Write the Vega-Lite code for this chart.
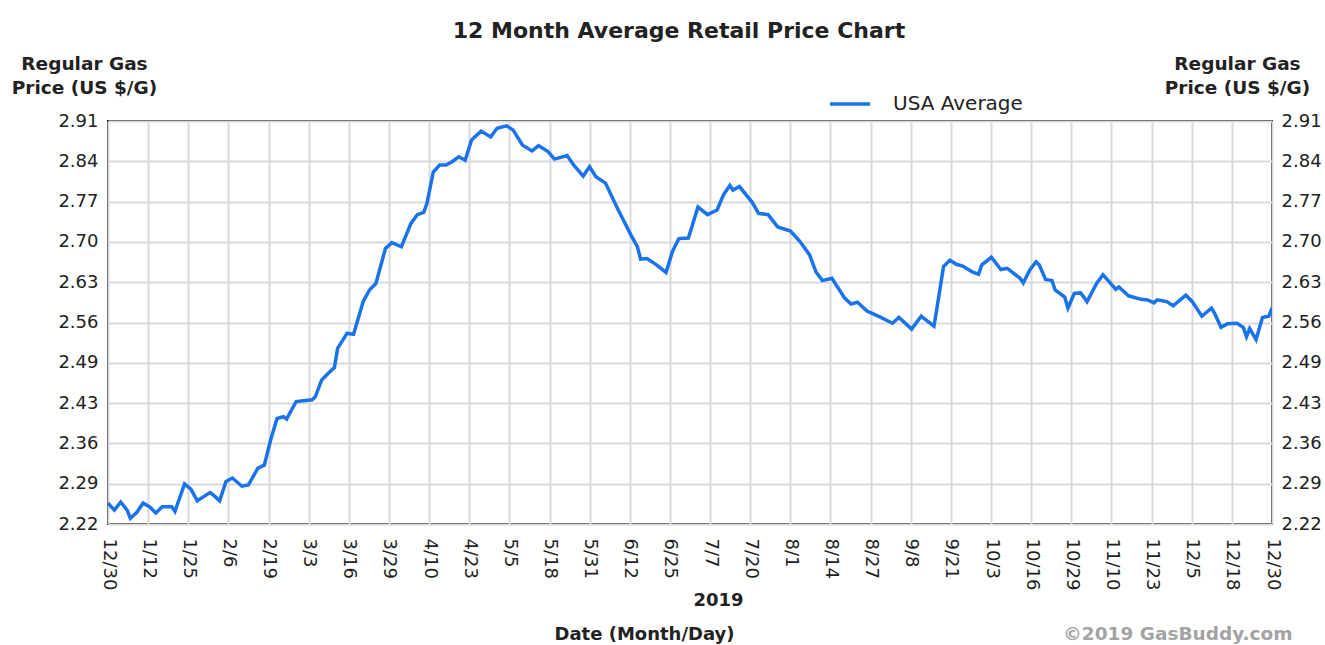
{
  "$schema": "https://vega.github.io/schema/vega-lite/v6.json",
  "autosize": {"type": "none"},
  "width": 1164,
  "height": 403,
  "padding": {"left": 108, "top": 121, "right": 53, "bottom": 121},
  "background": "white",
  "title": {
    "text": "12 Month Average Retail Price Chart",
    "font": "DejaVu Sans",
    "fontSize": 22,
    "fontWeight": "bold",
    "color": "#222222",
    "anchor": "middle",
    "frame": "group",
    "dx": -11,
    "offset": 11
  },
  "config": {
    "view": {"stroke": "#111111", "strokeWidth": 2},
    "axis": {
      "labelFont": "DejaVu Sans",
      "labelFontSize": 18,
      "labelColor": "#222222",
      "titleFont": "DejaVu Sans",
      "titleFontWeight": "bold",
      "titleColor": "#222222",
      "domain": false,
      "ticks": false,
      "tickSize": 0,
      "labelFlush": false,
      "labelOverlap": false,
      "labelBound": false
    }
  },
  "data": {
    "values": [
      {"date": "2018-12-30", "price": 2.254},
      {"date": "2019-01-01", "price": 2.242},
      {"date": "2019-01-03", "price": 2.256},
      {"date": "2019-01-05", "price": 2.242},
      {"date": "2019-01-06", "price": 2.228},
      {"date": "2019-01-08", "price": 2.238},
      {"date": "2019-01-10", "price": 2.254},
      {"date": "2019-01-12", "price": 2.248},
      {"date": "2019-01-14", "price": 2.237},
      {"date": "2019-01-16", "price": 2.248},
      {"date": "2019-01-19", "price": 2.248},
      {"date": "2019-01-20", "price": 2.240},
      {"date": "2019-01-23", "price": 2.287},
      {"date": "2019-01-25", "price": 2.278},
      {"date": "2019-01-27", "price": 2.258},
      {"date": "2019-01-31", "price": 2.272},
      {"date": "2019-02-01", "price": 2.268},
      {"date": "2019-02-03", "price": 2.258},
      {"date": "2019-02-05", "price": 2.291},
      {"date": "2019-02-07", "price": 2.297},
      {"date": "2019-02-10", "price": 2.283},
      {"date": "2019-02-12", "price": 2.285},
      {"date": "2019-02-15", "price": 2.314},
      {"date": "2019-02-17", "price": 2.319},
      {"date": "2019-02-19", "price": 2.362},
      {"date": "2019-02-21", "price": 2.399},
      {"date": "2019-02-23", "price": 2.402},
      {"date": "2019-02-24", "price": 2.398},
      {"date": "2019-02-27", "price": 2.428},
      {"date": "2019-03-04", "price": 2.431},
      {"date": "2019-03-05", "price": 2.436},
      {"date": "2019-03-07", "price": 2.465},
      {"date": "2019-03-09", "price": 2.476},
      {"date": "2019-03-11", "price": 2.486},
      {"date": "2019-03-12", "price": 2.519},
      {"date": "2019-03-15", "price": 2.545},
      {"date": "2019-03-17", "price": 2.543},
      {"date": "2019-03-20", "price": 2.599},
      {"date": "2019-03-22", "price": 2.619},
      {"date": "2019-03-24", "price": 2.630},
      {"date": "2019-03-27", "price": 2.690},
      {"date": "2019-03-29", "price": 2.700},
      {"date": "2019-04-01", "price": 2.693},
      {"date": "2019-04-04", "price": 2.733},
      {"date": "2019-04-06", "price": 2.748},
      {"date": "2019-04-08", "price": 2.752},
      {"date": "2019-04-09", "price": 2.767},
      {"date": "2019-04-11", "price": 2.821},
      {"date": "2019-04-13", "price": 2.833},
      {"date": "2019-04-15", "price": 2.833},
      {"date": "2019-04-17", "price": 2.839},
      {"date": "2019-04-19", "price": 2.847},
      {"date": "2019-04-21", "price": 2.841},
      {"date": "2019-04-23", "price": 2.876},
      {"date": "2019-04-26", "price": 2.891},
      {"date": "2019-04-29", "price": 2.881},
      {"date": "2019-05-01", "price": 2.896},
      {"date": "2019-05-04", "price": 2.900},
      {"date": "2019-05-06", "price": 2.893},
      {"date": "2019-05-09", "price": 2.867},
      {"date": "2019-05-12", "price": 2.857},
      {"date": "2019-05-14", "price": 2.866},
      {"date": "2019-05-17", "price": 2.856},
      {"date": "2019-05-19", "price": 2.843},
      {"date": "2019-05-23", "price": 2.849},
      {"date": "2019-05-25", "price": 2.833},
      {"date": "2019-05-28", "price": 2.814},
      {"date": "2019-05-30", "price": 2.830},
      {"date": "2019-06-01", "price": 2.813},
      {"date": "2019-06-04", "price": 2.802},
      {"date": "2019-06-08", "price": 2.756},
      {"date": "2019-06-12", "price": 2.713},
      {"date": "2019-06-14", "price": 2.693},
      {"date": "2019-06-15", "price": 2.672},
      {"date": "2019-06-17", "price": 2.673},
      {"date": "2019-06-20", "price": 2.662},
      {"date": "2019-06-23", "price": 2.649},
      {"date": "2019-06-25", "price": 2.685},
      {"date": "2019-06-27", "price": 2.707},
      {"date": "2019-06-30", "price": 2.708},
      {"date": "2019-07-03", "price": 2.761},
      {"date": "2019-07-06", "price": 2.748},
      {"date": "2019-07-09", "price": 2.756},
      {"date": "2019-07-11", "price": 2.782},
      {"date": "2019-07-13", "price": 2.798},
      {"date": "2019-07-14", "price": 2.790},
      {"date": "2019-07-16", "price": 2.796},
      {"date": "2019-07-20", "price": 2.769},
      {"date": "2019-07-22", "price": 2.750},
      {"date": "2019-07-25", "price": 2.748},
      {"date": "2019-07-28", "price": 2.727},
      {"date": "2019-08-01", "price": 2.720},
      {"date": "2019-08-04", "price": 2.702},
      {"date": "2019-08-07", "price": 2.679},
      {"date": "2019-08-09", "price": 2.650},
      {"date": "2019-08-11", "price": 2.635},
      {"date": "2019-08-14", "price": 2.639},
      {"date": "2019-08-18", "price": 2.605},
      {"date": "2019-08-20", "price": 2.595},
      {"date": "2019-08-22", "price": 2.598},
      {"date": "2019-08-25", "price": 2.583},
      {"date": "2019-08-29", "price": 2.573},
      {"date": "2019-09-02", "price": 2.562},
      {"date": "2019-09-04", "price": 2.572},
      {"date": "2019-09-08", "price": 2.552},
      {"date": "2019-09-11", "price": 2.574},
      {"date": "2019-09-15", "price": 2.557},
      {"date": "2019-09-16", "price": 2.590},
      {"date": "2019-09-18", "price": 2.659},
      {"date": "2019-09-20", "price": 2.670},
      {"date": "2019-09-22", "price": 2.663},
      {"date": "2019-09-24", "price": 2.660},
      {"date": "2019-09-27", "price": 2.650},
      {"date": "2019-09-29", "price": 2.646},
      {"date": "2019-09-30", "price": 2.662},
      {"date": "2019-10-03", "price": 2.675},
      {"date": "2019-10-06", "price": 2.654},
      {"date": "2019-10-08", "price": 2.656},
      {"date": "2019-10-12", "price": 2.639},
      {"date": "2019-10-13", "price": 2.631},
      {"date": "2019-10-15", "price": 2.653},
      {"date": "2019-10-17", "price": 2.667},
      {"date": "2019-10-18", "price": 2.662},
      {"date": "2019-10-20", "price": 2.637},
      {"date": "2019-10-22", "price": 2.635},
      {"date": "2019-10-23", "price": 2.619},
      {"date": "2019-10-26", "price": 2.607},
      {"date": "2019-10-27", "price": 2.588},
      {"date": "2019-10-29", "price": 2.613},
      {"date": "2019-10-31", "price": 2.614},
      {"date": "2019-11-02", "price": 2.599},
      {"date": "2019-11-05", "price": 2.630},
      {"date": "2019-11-07", "price": 2.645},
      {"date": "2019-11-09", "price": 2.633},
      {"date": "2019-11-11", "price": 2.620},
      {"date": "2019-11-12", "price": 2.624},
      {"date": "2019-11-15", "price": 2.609},
      {"date": "2019-11-19", "price": 2.603},
      {"date": "2019-11-21", "price": 2.602},
      {"date": "2019-11-23", "price": 2.597},
      {"date": "2019-11-24", "price": 2.602},
      {"date": "2019-11-27", "price": 2.599},
      {"date": "2019-11-29", "price": 2.592},
      {"date": "2019-12-03", "price": 2.610},
      {"date": "2019-12-05", "price": 2.599},
      {"date": "2019-12-08", "price": 2.574},
      {"date": "2019-12-11", "price": 2.588},
      {"date": "2019-12-12", "price": 2.579},
      {"date": "2019-12-14", "price": 2.555},
      {"date": "2019-12-16", "price": 2.561},
      {"date": "2019-12-19", "price": 2.562},
      {"date": "2019-12-21", "price": 2.555},
      {"date": "2019-12-22", "price": 2.539},
      {"date": "2019-12-23", "price": 2.553},
      {"date": "2019-12-25", "price": 2.534},
      {"date": "2019-12-27", "price": 2.572},
      {"date": "2019-12-29", "price": 2.574},
      {"date": "2019-12-30", "price": 2.588}
    ]
  },
  "layer": [
    {
      "mark": {"type": "line", "strokeWidth": 3.5, "clip": true},
      "encoding": {
        "x": {
          "field": "date",
          "type": "temporal",
          "scale": {"type": "utc", "domain": [1546128000000, 1577664000000], "nice": false},
          "axis": {
            "orient": "bottom",
            "values": [1546128000000, 1547215448276, 1548302896552, 1549390344828, 1550477793103, 1551565241379, 1552652689655, 1553740137931, 1554827586207, 1555915034483, 1557002482759, 1558089931034, 1559177379310, 1560264827586, 1561352275862, 1562439724138, 1563527172414, 1564614620690, 1565702068966, 1566789517241, 1567876965517, 1568964413793, 1570051862069, 1571139310345, 1572226758621, 1573314206897, 1574401655172, 1575489103448, 1576576551724, 1577664000000],
            "labelExpr": "utcFormat(+datum.value + 86399000, '%-m/%-d')",
            "labelAngle": 90,
            "labelPadding": 14,
            "grid": true,
            "gridColor": "#dadada",
            "gridWidth": 2,
            "title": "Date (Month/Day)",
            "titleFontSize": 18,
            "titleAlign": "center",
            "titleBaseline": "alphabetic",
            "titleAnchor": null,
            "titleX": 536,
            "titleY": 115
          }
        },
        "y": {
          "field": "price",
          "type": "quantitative",
          "scale": {"domain": [2.2183, 2.9083], "nice": false, "zero": false},
          "axis": {
            "orient": "left",
            "values": [2.2183, 2.2873, 2.3563, 2.4253, 2.4943, 2.5633, 2.6323, 2.7013, 2.7703, 2.8393, 2.9083],
            "format": ".2f",
            "labelPadding": 10,
            "grid": true,
            "gridColor": "#dadada",
            "gridWidth": 2,
            "title": ["Regular Gas", "Price (US $/G)"],
            "titleFontSize": 18.5,
            "titleLineHeight": 24,
            "titleAngle": 0,
            "titleAlign": "center",
            "titleBaseline": "alphabetic",
            "titleAnchor": null,
            "titleX": -24,
            "titleY": -52
          }
        },
        "color": {
          "datum": "USA Average",
          "type": "nominal",
          "scale": {"range": ["#1a73e8"]},
          "legend": {
            "orient": "none",
            "legendX": 720,
            "legendY": -39,
            "title": null,
            "padding": 0,
            "symbolType": "stroke",
            "symbolSize": 1600,
            "symbolStrokeWidth": 3.5,
            "labelFont": "DejaVu Sans",
            "labelFontSize": 20,
            "labelColor": "#222222",
            "labelOffset": 21
          }
        }
      }
    },
    {
      "mark": {"type": "line", "opacity": 0},
      "encoding": {
        "x": {
          "field": "date",
          "type": "temporal",
          "scale": {"type": "utc", "domain": [1546128000000, 1577664000000], "nice": false},
          "axis": {
            "orient": "bottom",
            "values": [1562656320000],
            "labelExpr": "utcFormat(+datum.value, '%Y')",
            "labelFontWeight": "bold",
            "labelFontSize": 18,
            "labelAngle": 0,
            "labelAlign": "center",
            "labelBaseline": "top",
            "labelPadding": 67,
            "grid": false,
            "title": "©2019 GasBuddy.com",
            "titleFontSize": 18.5,
            "titleColor": "#a3a3a3",
            "titleAlign": "right",
            "titleBaseline": "alphabetic",
            "titleAnchor": null,
            "titleX": 1184,
            "titleY": 115
          }
        },
        "y": {
          "field": "price",
          "type": "quantitative",
          "scale": {"domain": [2.2183, 2.9083], "nice": false, "zero": false},
          "axis": {
            "orient": "right",
            "values": [2.2183, 2.2873, 2.3563, 2.4253, 2.4943, 2.5633, 2.6323, 2.7013, 2.7703, 2.8393, 2.9083],
            "format": ".2f",
            "labelPadding": 9,
            "grid": false,
            "title": ["Regular Gas", "Price (US $/G)"],
            "titleFontSize": 18.5,
            "titleLineHeight": 24,
            "titleAngle": 0,
            "titleAlign": "center",
            "titleBaseline": "alphabetic",
            "titleAnchor": null,
            "titleX": -35,
            "titleY": -52
          }
        }
      }
    }
  ],
  "resolve": {"axis": {"x": "independent", "y": "independent"}}
}
